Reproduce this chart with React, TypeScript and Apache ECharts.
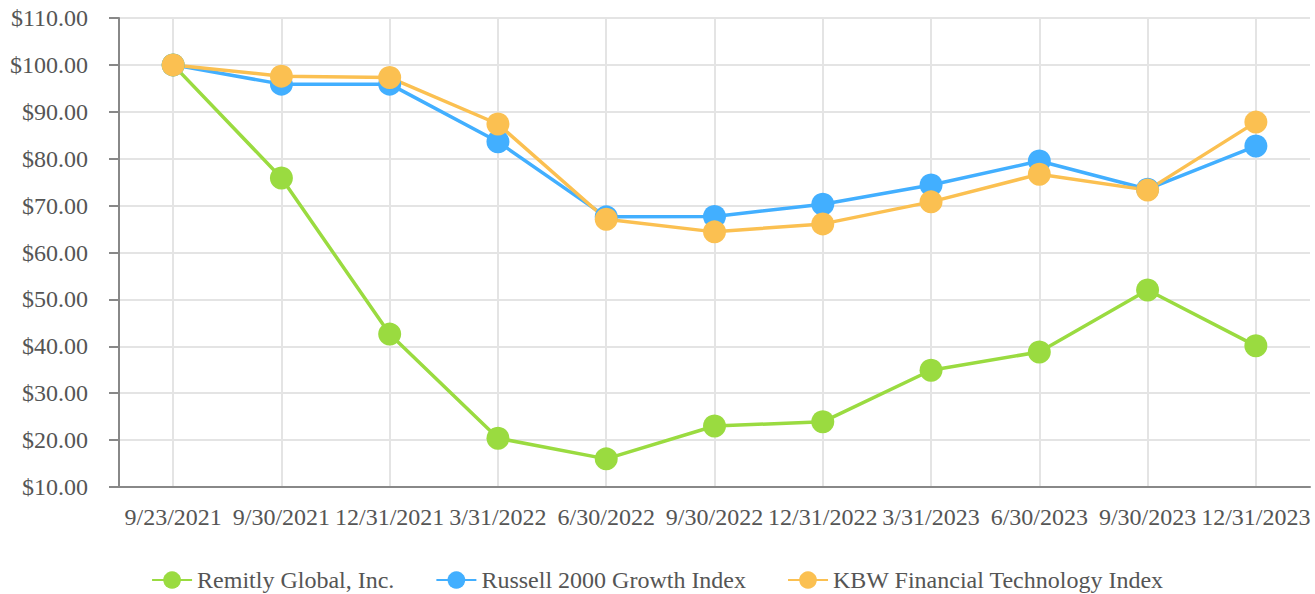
import React, { useEffect, useRef } from "react";
import * as echarts from "echarts";

const categories = [
  "9/23/2021", "9/30/2021", "12/31/2021", "3/31/2022", "6/30/2022", "9/30/2022",
  "12/31/2022", "3/31/2023", "6/30/2023", "9/30/2023", "12/31/2023",
];
const remitly = [100, 75.9, 42.6, 20.4, 16.0, 23.0, 23.9, 34.9, 38.8, 52.0, 40.1];
const russell = [100, 95.9, 95.9, 83.6, 67.6, 67.7, 70.3, 74.4, 79.5, 73.5, 82.7];
const kbw = [100, 97.6, 97.3, 87.4, 67.1, 64.4, 66.1, 70.8, 76.7, 73.3, 87.8];

const seriesNames = ["Remitly Global, Inc.", "Russell 2000 Growth Index", "KBW Financial Technology Index"];
const colors = ["#9ADB40", "#42AFFF", "#FBC051"];

export default function App() {
  const ref = useRef<HTMLDivElement>(null);
  useEffect(() => {
    const chart = echarts.init(ref.current!, null, { renderer: "svg" });
    const font = "'Liberation Serif', 'Times New Roman', serif";
    const mk = (name: string, data: number[], color: string) => ({
      name,
      type: "line",
      data,
      symbol: "circle",
      symbolSize: 23,
      lineStyle: { width: 3.5, color },
      itemStyle: { color },
      z: 2,
    });
    chart.setOption({
      animation: false,
      color: colors,
      textStyle: { fontFamily: font },
      grid: { left: 119, right: 5, top: 18, bottom: 107, containLabel: false },
      legend: {
        top: 568,
        left: "center",
        itemWidth: 40,
        itemHeight: 22,
        itemGap: 41,
        padding: 0,
        textStyle: { fontFamily: font, fontSize: 24, color: "#555" },
        data: seriesNames,
      },
      xAxis: {
        type: "category",
        data: categories,
        boundaryGap: true,
        axisLine: { lineStyle: { color: "#888", width: 2 } },
        axisTick: { alignWithLabel: true, length: 10, lineStyle: { color: "#888", width: 2 } },
        axisLabel: { color: "#555", fontSize: 24, fontFamily: font, margin: 18, interval: 0 },
        splitLine: { show: true, alignWithLabel: true, lineStyle: { color: "#e4e4e4", width: 2 } },
      },
      yAxis: {
        type: "value",
        min: 10,
        max: 110,
        interval: 10,
        axisLine: { show: true, lineStyle: { color: "#888", width: 2 } },
        axisTick: { show: true, length: 10, lineStyle: { color: "#888", width: 2 } },
        axisLabel: {
          color: "#555",
          fontSize: 24,
          fontFamily: font,
          margin: 31,
          formatter: (v: number) => "$" + v.toFixed(2),
        },
        splitLine: { show: true, lineStyle: { color: "#e4e4e4", width: 2 } },
      },
      series: [
        mk(seriesNames[0], remitly, colors[0]),
        mk(seriesNames[1], russell, colors[1]),
        mk(seriesNames[2], kbw, colors[2]),
      ],
    });
    return () => chart.dispose();
  }, []);
  return <div ref={ref} style={{ width: 1315, height: 594, position: "absolute", left: 0, top: 0 }} />;
}
